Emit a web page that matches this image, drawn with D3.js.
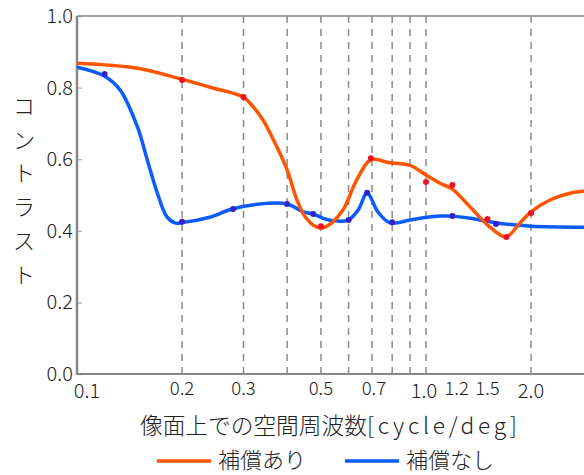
<!DOCTYPE html>
<html>
<head>
<meta charset="utf-8">
<script src="https://cdn.jsdelivr.net/npm/d3@7"></script>
<style>
  body { margin: 0; background: #fff; }
  svg text { font-family: "Noto Sans CJK JP", "Noto Sans", sans-serif; font-weight: 300; fill: #222; }
</style>
</head>
<body>
<svg id="chart" width="584" height="475"></svg>
<script>
// 空間周波数 [cycle/deg] と コントラスト
const compFreq = [0.1, 0.149, 0.2, 0.245, 0.3, 0.32, 0.341, 0.374, 0.4, 0.427, 0.45, 0.487, 0.514, 0.578, 0.626, 0.678, 0.70, 0.789, 0.90, 1.0, 1.097, 1.187, 1.364, 1.526, 1.695, 1.859, 2.0, 2.266, 2.586, 2.836, 3.0];
const compVal  = [0.868, 0.854, 0.823, 0.799, 0.773, 0.746, 0.71, 0.634, 0.57, 0.486, 0.44, 0.41, 0.41, 0.458, 0.533, 0.59, 0.60, 0.59, 0.583, 0.556, 0.533, 0.517, 0.458, 0.41, 0.383, 0.422, 0.453, 0.486, 0.505, 0.511, 0.514];

const noCompFreq = [0.1, 0.12, 0.133, 0.149, 0.159, 0.17, 0.181, 0.191, 0.2, 0.24, 0.278, 0.328, 0.4, 0.444, 0.475, 0.507, 0.541, 0.598, 0.639, 0.678, 0.729, 0.789, 0.90, 1.007, 1.097, 1.187, 1.337, 1.597, 1.823, 2.0, 2.836, 3.0];
const noCompVal  = [0.857, 0.832, 0.793, 0.69, 0.598, 0.505, 0.439, 0.422, 0.423, 0.438, 0.461, 0.474, 0.475, 0.453, 0.447, 0.435, 0.428, 0.43, 0.458, 0.505, 0.452, 0.422, 0.43, 0.438, 0.441, 0.441, 0.435, 0.422, 0.416, 0.413, 0.41, 0.41];

// 測定点
const compDotFreq = [0.2, 0.3, 0.5, 0.695, 1.0, 1.19, 1.5, 1.7, 2.0];
const compDotVal  = [0.821, 0.774, 0.413, 0.603, 0.536, 0.528, 0.433, 0.383, 0.45];
const noCompDotFreq = [0.12, 0.2, 0.28, 0.4, 0.475, 0.6, 0.678, 0.8, 1.19, 1.587];
const noCompDotVal  = [0.838, 0.425, 0.461, 0.475, 0.447, 0.43, 0.506, 0.424, 0.441, 0.419];

const xTickVals = [0.1, 0.2, 0.3, 0.5, 0.7, 1.0, 1.2, 1.5, 2.0];
const gridFreqs = [0.2, 0.3, 0.4, 0.5, 0.6, 0.7, 0.8, 0.9, 1.0, 2.0];
const yTickVals = [0.0, 0.2, 0.4, 0.6, 0.8, 1.0];

const seriesNames = ['補償あり', '補償なし'];
const xTitleJa = '像面上での空間周波数';
const xTitleUnit = '[cycle/deg]';
const yTitle = 'コントラスト';

const ORANGE = '#ff5500';
const BLUE = '#0a5cff';

const svg = d3.select('#chart');
const plotL = 77, plotT = 16, plotB = 374;

const x = d3.scaleLog().domain([0.1, 3]).range([plotL, plotL + 349 * Math.log10(30)]);
const y = d3.scaleLinear().domain([0, 1]).range([plotB, plotT]);

svg.append('clipPath').attr('id', 'plotclip')
  .append('rect').attr('x', plotL).attr('y', plotT - 4).attr('width', 584 - plotL).attr('height', plotB - plotT + 8);

// 破線グリッド
svg.append('g').selectAll('line')
  .data(gridFreqs)
  .join('line')
    .attr('x1', d => x(d)).attr('x2', d => x(d))
    .attr('y1', plotT).attr('y2', plotB)
    .attr('stroke', '#8a8a8a')
    .attr('stroke-width', 1.5)
    .attr('stroke-dasharray', '7,6');

// y軸
const yAxis = d3.axisLeft(y).tickValues(yTickVals).tickFormat(d3.format('.1f')).tickSize(-5).tickPadding(4);
const yg = svg.append('g').attr('transform', `translate(${plotL},0)`).call(yAxis);
yg.select('.domain').remove();
yg.selectAll('.tick line').attr('stroke', '#bbb').attr('stroke-width', 1.5);
yg.selectAll('.tick text').attr('font-size', 20).attr('fill', '#222');

// x軸ラベル（元図に合わせて少しずらす）
const emph = new Set([0.1, 1.0, 2.0]);
const nudge = d => d === 0.1 ? 10 : d === 1.0 ? -2 : d === 1.2 ? 3 : d === 0.7 ? 2 : 0;
svg.append('g').selectAll('text')
  .data(xTickVals)
  .join('text')
    .attr('x', d => x(d) + nudge(d))
    .attr('y', d => emph.has(d) ? 398 : 395)
    .attr('text-anchor', 'middle')
    .attr('font-size', d => emph.has(d) ? 20 : 18.5)
    .text(d3.format('.1f'));

// 枠
svg.append('line').attr('x1', plotL).attr('x2', 584).attr('y1', plotT).attr('y2', plotT)
  .attr('stroke', '#888').attr('stroke-width', 1.5);
svg.append('line').attr('x1', plotL).attr('x2', 584).attr('y1', plotB).attr('y2', plotB)
  .attr('stroke', '#888').attr('stroke-width', 2);
svg.append('line').attr('x1', plotL).attr('x2', plotL).attr('y1', plotT).attr('y2', plotB + 1)
  .attr('stroke', '#888').attr('stroke-width', 2.5);

const plot = svg.append('g').attr('clip-path', 'url(#plotclip)');

const line = d3.line()
  .x(d => x(d[0]))
  .y(d => y(d[1]))
  .curve(d3.curveCatmullRom.alpha(0.5));

plot.append('path')
  .datum(d3.zip(noCompFreq, noCompVal))
  .attr('fill', 'none').attr('stroke', BLUE).attr('stroke-width', 3.5)
  .attr('d', line);
plot.append('path')
  .datum(d3.zip(compFreq, compVal))
  .attr('fill', 'none').attr('stroke', ORANGE).attr('stroke-width', 3.5)
  .attr('d', line);

plot.append('g').selectAll('circle')
  .data(d3.zip(noCompDotFreq, noCompDotVal))
  .join('circle')
    .attr('cx', d => x(d[0])).attr('cy', d => y(d[1]))
    .attr('r', 3).attr('fill', '#3322cc');
plot.append('g').selectAll('circle')
  .data(d3.zip(compDotFreq, compDotVal))
  .join('circle')
    .attr('cx', d => x(d[0])).attr('cy', d => y(d[1]))
    .attr('r', 3).attr('fill', '#ee1122');

// 軸タイトル
const xt = svg.append('text')
  .attr('x', 140).attr('y', 434)
  .attr('font-size', 22.7);
xt.append('tspan').text(xTitleJa);
xt.append('tspan')
  .attr('textLength', 150)
  .attr('lengthAdjust', 'spacing')
  .text(xTitleUnit);

svg.append('g').selectAll('text')
  .data(yTitle.split(''))
  .join('text')
    .attr('x', 24)
    .attr('y', (d, i) => 106 + i * 33.8)
    .attr('dy', '0.35em')
    .attr('text-anchor', 'middle')
    .attr('font-size', 22)
    .text(d => d);

// 凡例
const legend = svg.append('g');
const legendX = [157, 345];
[ORANGE, BLUE].forEach((c, i) => {
  legend.append('line')
    .attr('x1', legendX[i]).attr('x2', legendX[i] + 54)
    .attr('y1', 461).attr('y2', 461)
    .attr('stroke', c).attr('stroke-width', 3.5);
  legend.append('text')
    .attr('x', legendX[i] + 61).attr('y', 460)
    .attr('dy', '0.35em')
    .attr('font-size', 22)
    .text(seriesNames[i]);
});
</script>
</body>
</html>
